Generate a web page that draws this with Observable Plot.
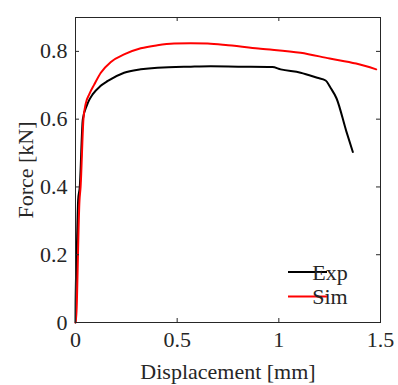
<!DOCTYPE html>
<html>
<head>
<meta charset="utf-8">
<script src="https://cdn.jsdelivr.net/npm/d3@7"></script>
<script src="https://cdn.jsdelivr.net/npm/@observablehq/plot@0.6"></script>
<style>
  html, body { margin: 0; padding: 0; background: #fff; }
  #chart { width: 398px; height: 385px; }
</style>
</head>
<body>
<div id="chart"></div>
<script>
const expDisp = [0, 0.0005, 0.006, 0.013, 0.021, 0.036, 0.055, 0.067, 0.084, 0.121, 0.157, 0.239, 0.321, 0.403, 0.567, 0.665, 0.80, 0.968, 1.009, 1.107, 1.189, 1.230, 1.255, 1.284, 1.332, 1.364];
const expForce = [0, 0.06, 0.2, 0.361, 0.4, 0.6, 0.639, 0.656, 0.673, 0.697, 0.712, 0.737, 0.747, 0.752, 0.755, 0.756, 0.755, 0.754, 0.747, 0.737, 0.722, 0.714, 0.692, 0.661, 0.564, 0.503];
const simDisp = [0, 0.0015, 0.0197, 0.025, 0.039, 0.05, 0.068, 0.092, 0.1245, 0.174, 0.239, 0.321, 0.403, 0.485, 0.567, 0.65, 0.75, 0.91, 1.107, 1.25, 1.38, 1.479];
const simForce = [0, 0, 0.361, 0.4, 0.6, 0.645, 0.674, 0.702, 0.737, 0.769, 0.791, 0.809, 0.818, 0.823, 0.824, 0.823, 0.818, 0.808, 0.796, 0.779, 0.764, 0.747];
const xTicks = [0, 0.5, 1, 1.5];
const yTicks = [0, 0.2, 0.4, 0.6, 0.8];
const seriesNames = ["Exp", "Sim"];
const seriesColors = ["#000000", "#ff0000"];

const expData = expDisp.map((d, i) => ({x: d, y: expForce[i]}));
const simData = simDisp.map((d, i) => ({x: d, y: simForce[i]}));

const ink = "#262626";
const font = "'Liberation Serif', 'Times New Roman', serif";
const W = 398, H = 385;
const mL = 75, mR = 18, mT = 17, mB = 63;
const frameH = H - mT - mB, frameW = W - mL - mR;
const tickLen = 4;

const plot = Plot.plot({
  width: W,
  height: H,
  marginLeft: mL,
  marginRight: mR,
  marginTop: mT,
  marginBottom: mB,
  style: {fontFamily: font, fontSize: "22px", color: ink, background: "#fff"},
  x: {domain: [0, 1.5], label: null},
  y: {domain: [0, 0.9], label: null},
  marks: [
    Plot.line(expData, {x: "x", y: "y", stroke: seriesColors[0], strokeWidth: 2, curve: "monotone-x"}),
    Plot.line(simData, {x: "x", y: "y", stroke: seriesColors[1], strokeWidth: 2, curve: "monotone-x"}),
    Plot.tickX(xTicks, {x: d => d, stroke: ink, insetTop: frameH - tickLen}),
    Plot.tickX(xTicks, {x: d => d, stroke: ink, insetBottom: frameH - tickLen}),
    Plot.tickY(yTicks, {y: d => d, stroke: ink, insetRight: frameW - tickLen}),
    Plot.tickY(yTicks, {y: d => d, stroke: ink, insetLeft: frameW - tickLen}),
    Plot.frame({stroke: ink}),
    Plot.axisX({ticks: xTicks, tickFormat: d => String(d), tickSize: 0, tickPadding: 9, fill: ink, fontSize: 22,
      label: "Displacement [mm]", labelAnchor: "center", labelOffset: 56, labelArrow: "none"}),
    Plot.axisY({ticks: yTicks, tickFormat: d => String(d), tickSize: 0, tickPadding: 8, fill: ink, fontSize: 22,
      label: "Force [kN]", labelAnchor: "center", labelOffset: 58, labelArrow: "none"})
  ]
});

document.getElementById("chart").appendChild(plot);

const svg = d3.select(plot);
svg.selectAll("text").style("font-family", font).style("font-size", "22px");

// legend inside plot area (bottom-right)
const lg = svg.append("g").style("font-family", font).style("font-size", "22px");
seriesNames.forEach((name, i) => {
  const cy = 272 + i * 24.5;
  lg.append("line").attr("x1", 288).attr("x2", 327).attr("y1", cy).attr("y2", cy)
    .attr("stroke", seriesColors[i]).attr("stroke-width", 2);
  lg.append("text").attr("x", 330).attr("y", cy).attr("dy", "0.35em").attr("fill", ink).text(name);
});
</script>
</body>
</html>
